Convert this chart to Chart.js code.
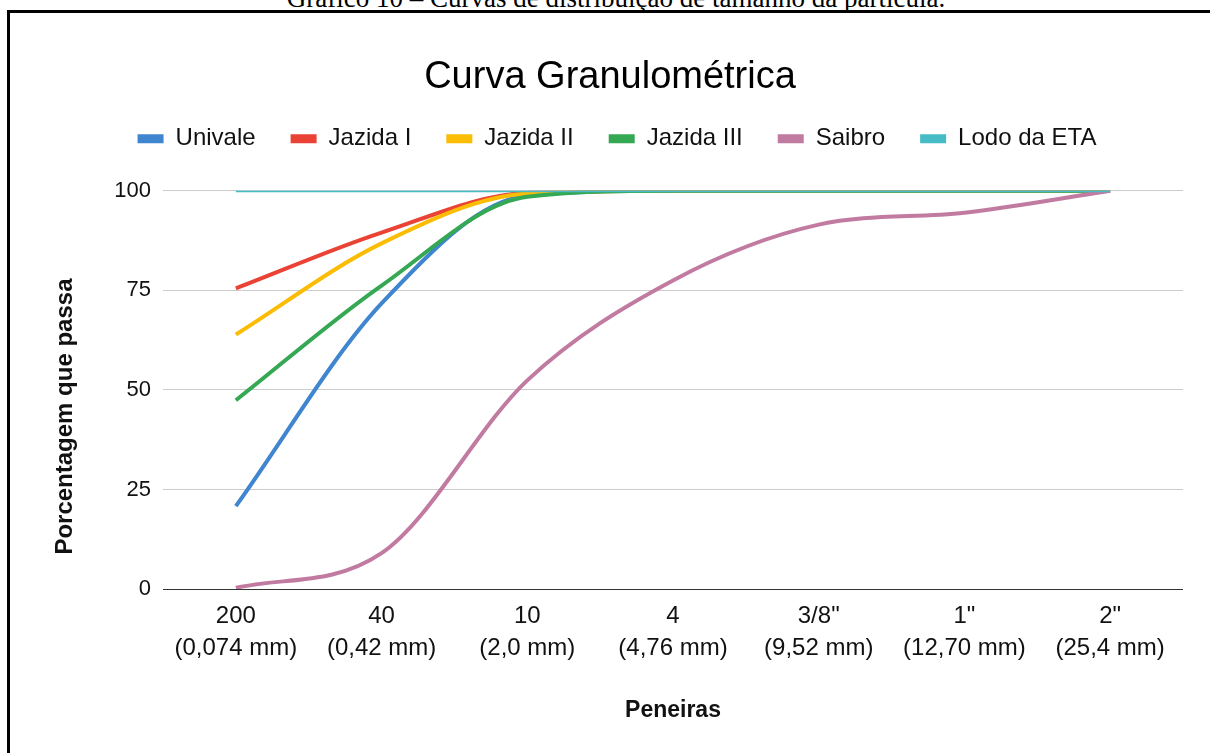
<!DOCTYPE html>
<html lang="pt-BR">
<head>
<meta charset="utf-8">
<title>Curva Granulométrica</title>
<script src="https://cdn.jsdelivr.net/npm/chart.js@4.4.1/dist/chart.umd.min.js"></script>
<style>
    html, body { margin: 0; padding: 0; background: #fff; overflow: hidden; }
    body { width: 1210px; height: 753px; position: relative; }
    .legenda-fig {
        position: absolute; left: 0; top: -15px; width: 1232px;
        text-align: center; font: 27px/27px "Liberation Serif", "Times New Roman", serif; color: #000;
    }
    .moldura {
        position: absolute; left: 7px; top: 10px; width: 1220px; height: 760px;
        border-left: 3px solid #000; border-top: 3px solid #000;
    }
    .grafico { position: absolute; left: 0; top: 0; width: 1200px; height: 740px; }
</style>
</head>
<body>
<div class="legenda-fig">Gráfico 10 – Curvas de distribuição de tamanho da partícula.</div>
<div class="moldura">
    <canvas id="curvaGranulometrica" class="grafico" width="1200" height="740"></canvas>
</div>
<script>
const peneiras = [
    ['200', '(0,074 mm)'],
    ['40', '(0,42 mm)'],
    ['10', '(2,0 mm)'],
    ['4', '(4,76 mm)'],
    ['3/8"', '(9,52 mm)'],
    ['1"', '(12,70 mm)'],
    ['2"', '(25,4 mm)']
];

const univale = [20.8, 71.7, 98.8, 100, 100, 100, 100];
const jazida1 = [75.5, 89.5, 99.5, 100, 100, 100, 100];
const jazida2 = [63.9, 86.8, 99.3, 100, 100, 100, 100];
const jazida3 = [47.4, 76.2, 98.5, 100, 100, 100, 100];
const saibro = [0.3, 9, 52.4, 77.5, 91.5, 94.5, 100];
const lodoEta = [100, 100, 100, 100, 100, 100, 100];

const yTicks = [0, 25, 50, 75, 100];

function serie(label, data, color, width, order) {
    return {
        label: label,
        data: data,
        borderColor: color,
        backgroundColor: color,
        borderWidth: width,
        pointRadius: 0,
        cubicInterpolationMode: 'monotone',
        yAxisID: 'y',
        order: order
    };
}

// empurra o gráfico para baixo sem mexer na posição da legenda
const legendGap = {
    id: 'legendGap',
    beforeLayout(chart) {
        const legend = chart.legend;
        if (!legend || legend._gapPatched) return;
        const fit = legend.fit;
        legend.fit = function () {
            fit.call(this);
            this.height = 99;
        };
        const draw = legend.draw;
        legend.draw = function () {
            this.ctx.save();
            this.ctx.translate(7, 0);
            draw.call(this);
            this.ctx.restore();
        };
        legend._gapPatched = true;
    }
};

Chart.defaults.font.family = '"Liberation Sans", Arial, sans-serif';
Chart.defaults.color = '#111';

const ctx = document.getElementById('curvaGranulometrica');
new Chart(ctx, {
    type: 'line',
    data: {
        labels: peneiras,
        datasets: [
            serie('Univale', univale, '#3f85cf', 4, 6),
            serie('Jazida I', jazida1, '#ea4335', 4, 5),
            serie('Jazida II', jazida2, '#fbbc04', 4, 4),
            serie('Jazida III', jazida3, '#34a853', 4, 3),
            serie('Saibro', saibro, '#c27ba0', 4, 2),
            serie('Lodo da ETA', lodoEta, '#46bdc6', 3, 1)
        ]
    },
    options: {
        responsive: false,
        animation: false,
        layout: { padding: 0 },
        plugins: {
            title: {
                display: true,
                text: 'Curva Granulométrica',
                color: '#000',
                font: { size: 38, weight: 'normal', lineHeight: 0.6 },
                padding: { top: 53, bottom: 3 }
            },
            legend: {
                position: 'top',
                labels: {
                    boxWidth: 26,
                    boxHeight: 9,
                    padding: 35,
                    color: '#111',
                    font: { size: 24 },
                    sort: (a, b) => a.datasetIndex - b.datasetIndex,
                    generateLabels: (chart) => Chart.defaults.plugins.legend.labels.generateLabels(chart)
                        .map(item => ({ ...item, lineWidth: 0 }))
                }
            },
            tooltip: { enabled: false }
        },
        scales: {
            x: {
                offset: true,
                grid: { display: false, drawTicks: false },
                border: { display: false },
                ticks: {
                    autoSkip: false,
                    maxRotation: 0,
                    padding: 11,
                    color: '#111',
                    font: { size: 24, lineHeight: 1.333 }
                },
                title: {
                    display: true,
                    text: 'Peneiras',
                    color: '#111',
                    font: { size: 23, weight: 'bold' },
                    padding: { top: 0, bottom: 29 }
                },
                afterFit: (scale) => { scale.height = 164; }
            },
            y: {
                min: 0,
                max: 100,
                afterBuildTicks: (scale) => { scale.ticks = yTicks.map(v => ({ value: v })); },
                grid: {
                    drawTicks: false,
                    color: (c) => (c.tick && c.tick.value === 0 ? '#333' : '#cccccc'),
                    lineWidth: 1
                },
                border: { display: false },
                ticks: {
                    padding: 12,
                    color: '#111',
                    font: { size: 22 }
                },
                title: {
                    display: true,
                    text: 'Porcentagem que passa' + '\u00a0'.repeat(8),
                    color: '#111',
                    font: { size: 24, weight: 'bold' },
                    padding: { top: 41, bottom: 0 }
                },
                afterFit: (scale) => { scale.width = 153; }
            },
            // margem à direita da área do gráfico, sem deslocar título e legenda
            margemDireita: {
                position: 'right',
                grid: { display: false, drawTicks: false },
                border: { display: false },
                ticks: { display: false },
                afterFit: (scale) => { scale.width = 27; }
            }
        }
    },
    plugins: [legendGap]
});
</script>
</body>
</html>
